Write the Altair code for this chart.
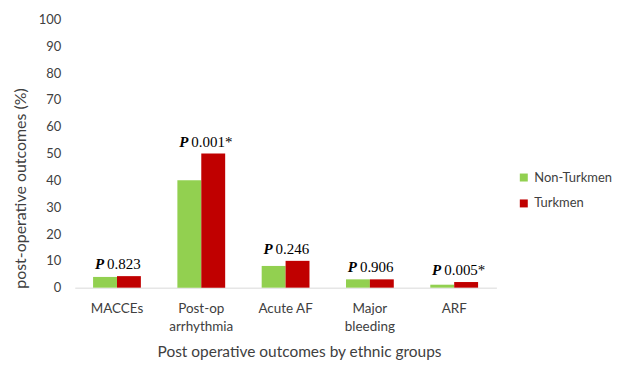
import altair as alt
import pandas as pd

categories = ["MACCEs", "Post-op arrhythmia", "Acute AF", "Major bleeding", "ARF"]
axis_labels = ["MACCEs", "Post-op\narrhythmia", "Acute AF", "Major\nbleeding", "ARF"]
non_turkmen = [4.0, 40.1, 8.1, 3.1, 1.1]
turkmen = [4.3, 50.0, 10.0, 3.1, 2.1]
p_values = ["0.823", "0.001*", "0.246", "0.906", "0.005*"]
y_ticks = [0, 10, 20, 30, 40, 50, 60, 70, 80, 90, 100]
groups = ["Non-Turkmen", "Turkmen"]
colors = ["#92d050", "#c00000"]

rows = []
for c, a, b in zip(categories, non_turkmen, turkmen):
    rows.append({"cat": c, "group": groups[0], "value": a})
    rows.append({"cat": c, "group": groups[1], "value": b})
df = pd.DataFrame(rows)

ann = pd.DataFrame({
    "cat": categories,
    "value": [max(a, b) for a, b in zip(non_turkmen, turkmen)],
    "p": p_values,
})

label_map = {c: l for c, l in zip(categories, axis_labels)}
label_expr = "split(" + " : ".join(
    [f"datum.value == '{c}' ? '{l}'" for c, l in label_map.items()]
).replace("\n", "\\n") + " : datum.value, '\\n')"

xscale = alt.Scale(domain=categories, paddingInner=0.433, paddingOuter=0.217)
yscale = alt.Scale(domain=[0, 100])

x_axis = alt.Axis(
    title="Post operative outcomes by ethnic groups",
    labelAngle=0, labelExpr=label_expr, labelLineHeight=18,
    labelFont="Lato", labelFontSize=13.5, labelColor="#404040",
    labelPadding=14, ticks=False, domainColor="#d9d9d9",
    titleFont="Lato", titleFontSize=15.5, titleFontWeight="normal",
    titleColor="#404040", titleX=225, titleY=64, titleAlign="center",
    titleBaseline="middle",
)
y_axis = alt.Axis(
    title="post-operative outcomes (%)", values=y_ticks,
    grid=False, domain=False, ticks=False, labelPadding=14,
    labelOverlap=False,
    labelFont="Lato", labelFontSize=13, labelColor="#404040",
    titleFont="Lato", titleFontSize=16, titleFontWeight="normal",
    titleColor="#404040", titleX=-54, titleY=169, titleAlign="center",
    titleBaseline="middle", titleAngle=270,
)

x_enc = alt.X("cat:N", scale=xscale, sort=categories, axis=x_axis)
y_enc = alt.Y("value:Q", scale=yscale, axis=y_axis)

bars = alt.Chart(df).mark_bar().encode(
    x=x_enc,
    xOffset=alt.XOffset("group:N", scale=alt.Scale(domain=groups, paddingInner=0, paddingOuter=0)),
    y=y_enc,
    color=alt.Color(
        "group:N", scale=alt.Scale(domain=groups, range=colors),
        legend=alt.Legend(
            title=None, orient="none", legendX=444, legendY=152,
            symbolType="square", symbolSize=64, symbolStrokeWidth=0,
            labelFont="Lato", labelFontSize=13, labelColor="#404040",
            rowPadding=12, labelOffset=4,
        ),
    ),
)

p_mark = alt.Chart(ann).mark_text(
    text="P", font="Liberation Serif", fontSize=15, fontWeight="bold",
    fontStyle="italic", align="right", baseline="alphabetic", dx=-13, dy=-7,
    color="black",
).encode(x=x_enc, y=y_enc)
num_mark = alt.Chart(ann).mark_text(
    font="Liberation Serif", fontSize=15, align="left", baseline="alphabetic",
    dx=-10, dy=-7, color="black",
).encode(x=x_enc, y=y_enc, text="p:N")

chart = alt.layer(bars, p_mark, num_mark).properties(
    width=423, height=269,
    padding={"left": 5, "top": 5, "right": 0, "bottom": 0},
).configure_view(stroke=None)

chart.save("out.html", embed_options={"renderer": "svg", "actions": False})
